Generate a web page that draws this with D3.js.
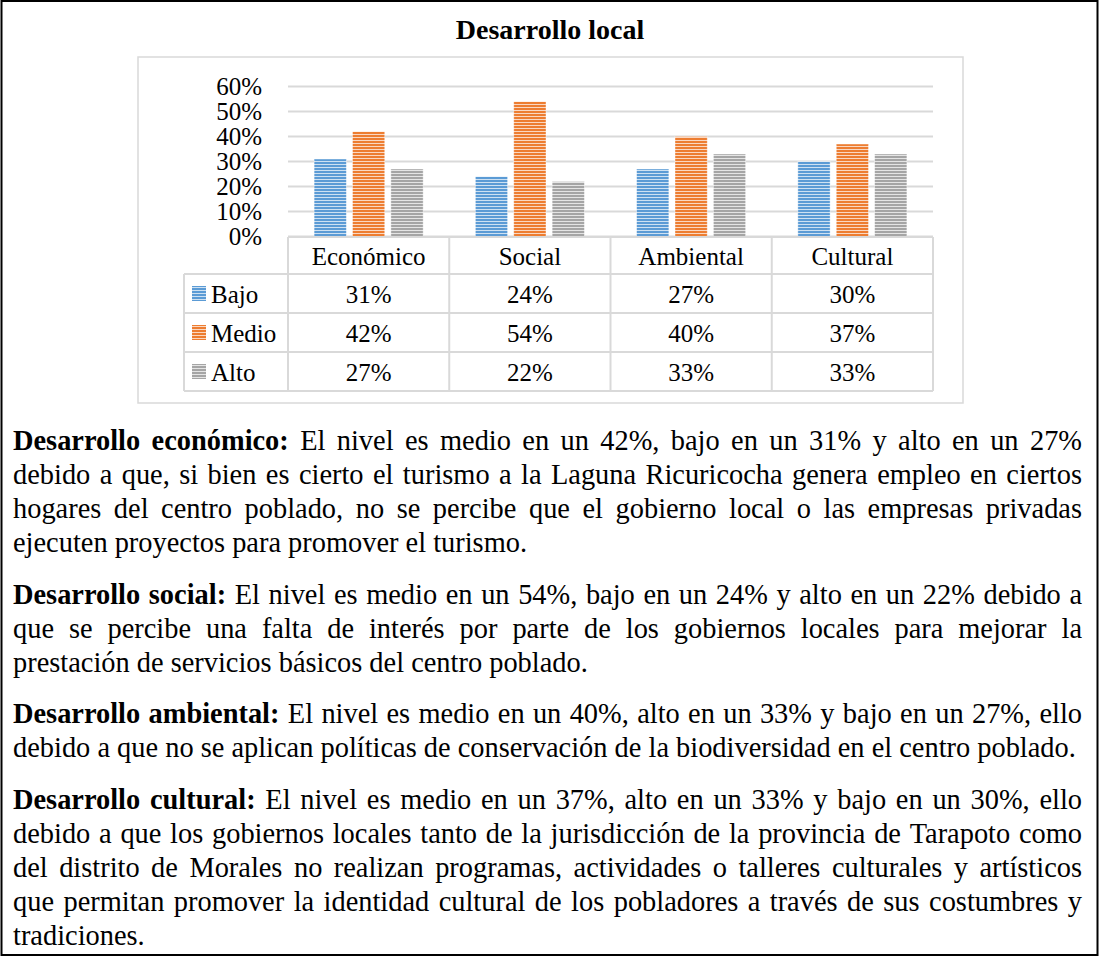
<!DOCTYPE html>
<html>
<head>
<meta charset="utf-8">
<script src="https://cdn.jsdelivr.net/npm/d3@7"></script>
<style>
  html, body { margin: 0; padding: 0; background: #fff; }
  svg { display: block; }
</style>
</head>
<body>
<div id="chart"></div>
<script>
// chart data
const categories = ['Económico', 'Social', 'Ambiental', 'Cultural'];
const seriesNames = ['Bajo', 'Medio', 'Alto'];
const bajo = [0.31, 0.24, 0.27, 0.30];
const medio = [0.42, 0.54, 0.40, 0.37];
const alto = [0.27, 0.22, 0.33, 0.33];
const yTicks = [0, 0.1, 0.2, 0.3, 0.4, 0.5, 0.6];
const seriesColors = ['#5b9bd5', '#ed7d31', '#a5a5a5'];
const title = 'Desarrollo local';

// text below the chart, one entry per printed line ([bold part, normal part])
const paragraphs = [
  [['Desarrollo económico:', 'El nivel es medio en un 42%, bajo en un 31% y alto en un 27%'],
   ['', 'debido a que, si bien es cierto el turismo a la Laguna Ricuricocha genera empleo en ciertos'],
   ['', 'hogares del centro poblado, no se percibe que el gobierno local o las empresas privadas'],
   ['', 'ejecuten proyectos para promover el turismo.']],
  [['Desarrollo social:', 'El nivel es medio en un 54%, bajo en un 24% y alto en un 22% debido a'],
   ['', 'que se percibe una falta de interés por parte de los gobiernos locales para mejorar la'],
   ['', 'prestación de servicios básicos del centro poblado.']],
  [['Desarrollo ambiental:', 'El nivel es medio en un 40%, alto en un 33% y bajo en un 27%, ello'],
   ['', 'debido a que no se aplican políticas de conservación de la biodiversidad en el centro poblado.']],
  [['Desarrollo cultural:', 'El nivel es medio en un 37%, alto en un 33% y bajo en un 30%, ello'],
   ['', 'debido a que los gobiernos locales tanto de la jurisdicción de la provincia de Tarapoto como'],
   ['', 'del distrito de Morales no realizan programas, actividades o talleres culturales y artísticos'],
   ['', 'que permitan promover la identidad cultural de los pobladores a través de sus costumbres y'],
   ['', 'tradiciones.']]
];

const seriesValues = [bajo, medio, alto];
const W = 1099, H = 957;
const FONT = '"Liberation Serif", "Times New Roman", serif';
const gridColor = '#d9d9d9';

const svg = d3.select('#chart').append('svg')
  .attr('width', W).attr('height', H)
  .style('font-family', FONT);

svg.append('rect').attr('width', W).attr('height', H).attr('fill', '#fff');

// outer frame
svg.append('rect')
  .attr('x', 1.5).attr('y', 1).attr('width', 1096).attr('height', 954)
  .attr('fill', 'none').attr('stroke', '#000').attr('stroke-width', 2);

// striped fills
const defs = svg.append('defs');
seriesColors.forEach((c, i) => {
  const p = defs.append('pattern')
    .attr('id', 'stripe' + i)
    .attr('patternUnits', 'userSpaceOnUse')
    .attr('width', 8).attr('height', 3);
  p.append('rect').attr('width', 8).attr('height', 3).attr('fill', c);
  p.append('rect').attr('y', 2).attr('width', 8).attr('height', 1)
    .attr('fill', '#fff').attr('fill-opacity', 0.7);
});

// title
svg.append('text')
  .attr('x', 550).attr('y', 39)
  .attr('text-anchor', 'middle')
  .attr('font-size', 28).attr('font-weight', 'bold')
  .text(title);

// chart box
svg.append('rect')
  .attr('x', 138).attr('y', 57).attr('width', 825).attr('height', 346)
  .attr('fill', 'none').attr('stroke', gridColor).attr('stroke-width', 1.5);

const x0 = d3.scaleBand().domain(categories).range([288, 933]).padding(0);
const x1 = d3.scaleBand().domain(seriesNames).range([0, x0.bandwidth()])
  .paddingInner(0.16).paddingOuter(0.68);
const y = d3.scaleLinear().domain([0, 0.6]).range([236.5, 86.5]);

// gridlines
svg.append('g').selectAll('line').data(yTicks).enter().append('line')
  .attr('x1', 288).attr('x2', 933)
  .attr('y1', d => y(d)).attr('y2', d => y(d))
  .attr('stroke', gridColor).attr('stroke-width', 2);

// y labels
svg.append('g').selectAll('text').data(yTicks).enter().append('text')
  .attr('x', 262).attr('y', d => y(d) + 8)
  .attr('text-anchor', 'end').attr('font-size', 25)
  .text(d => d3.format('.0%')(d));

// bars
const groups = svg.append('g').selectAll('g').data(categories).enter().append('g')
  .attr('transform', d => `translate(${x0(d)},0)`);
groups.selectAll('rect')
  .data((c, ci) => seriesNames.map((s, si) => ({ s, si, v: seriesValues[si][ci] })))
  .enter().append('rect')
  .attr('x', d => x1(d.s))
  .attr('y', d => y(d.v))
  .attr('width', x1.bandwidth())
  .attr('height', d => y(0) - y(d.v))
  .attr('fill', d => `url(#stripe${d.si})`)
  .attr('stroke', '#fff').attr('stroke-opacity', 0.5).attr('stroke-width', 0.8);

// data table
const rowTop = 237, headH = 37, rowH = 39;
const tableLeft = 184, tableRight = 933;
const table = svg.append('g');
const lines = [];
// horizontal lines
lines.push([288, rowTop, tableRight, rowTop]);
lines.push([tableLeft, rowTop + headH, tableRight, rowTop + headH]);
seriesNames.forEach((s, i) => {
  const yy = rowTop + headH + rowH * (i + 1);
  lines.push([tableLeft, yy, tableRight, yy]);
});
const tableBottom = rowTop + headH + rowH * seriesNames.length;
// vertical lines
lines.push([tableLeft, rowTop + headH, tableLeft, tableBottom]);
categories.forEach(c => lines.push([x0(c), rowTop, x0(c), tableBottom]));
lines.push([tableRight, rowTop, tableRight, tableBottom]);
table.selectAll('line').data(lines).enter().append('line')
  .attr('x1', d => d[0]).attr('y1', d => d[1])
  .attr('x2', d => d[2]).attr('y2', d => d[3])
  .attr('stroke', gridColor).attr('stroke-width', 2);

// header
table.selectAll('text.cat').data(categories).enter().append('text')
  .attr('class', 'cat')
  .attr('x', d => x0(d) + x0.bandwidth() / 2)
  .attr('y', rowTop + headH / 2 + 9)
  .attr('text-anchor', 'middle').attr('font-size', 25)
  .text(d => d);

// rows
seriesNames.forEach((s, si) => {
  const cy = rowTop + headH + rowH * si + rowH / 2;
  table.append('rect')
    .attr('x', 192).attr('y', cy - 7.5).attr('width', 14).attr('height', 15)
    .attr('fill', `url(#stripe${si})`);
  table.append('text')
    .attr('x', 211).attr('y', cy + 9)
    .attr('font-size', 25).text(s);
  table.selectAll('text.v' + si).data(seriesValues[si]).enter().append('text')
    .attr('class', 'v' + si)
    .attr('x', (d, i) => x0(categories[i]) + x0.bandwidth() / 2)
    .attr('y', cy + 9)
    .attr('text-anchor', 'middle').attr('font-size', 25)
    .text(d => d3.format('.0%')(d));
});

// justified paragraphs
const txt = svg.append('g').attr('font-size', 28.4);
const left = 13, right = 1082, lineH = 34, paraGap = 17.6;
const spaceW = 7.1;
let baseY = 450;
paragraphs.forEach(par => {
  par.forEach((ln, li) => {
    const words = [];
    if (ln[0]) ln[0].split(' ').forEach(w => words.push({ w, b: true }));
    ln[1].split(' ').forEach(w => words.push({ w, b: false }));
    const els = words.map(o => txt.append('text')
      .attr('y', baseY)
      .attr('font-weight', o.b ? 'bold' : 'normal')
      .text(o.w));
    const widths = els.map(e => e.node().getComputedTextLength());
    const total = d3.sum(widths);
    const isLast = li === par.length - 1;
    const gap = isLast ? spaceW : (right - left - total) / (words.length - 1);
    let xx = left;
    els.forEach((e, i) => { e.attr('x', xx); xx += widths[i] + gap; });
    baseY += lineH;
  });
  baseY += paraGap;
});
</script>
</body>
</html>
